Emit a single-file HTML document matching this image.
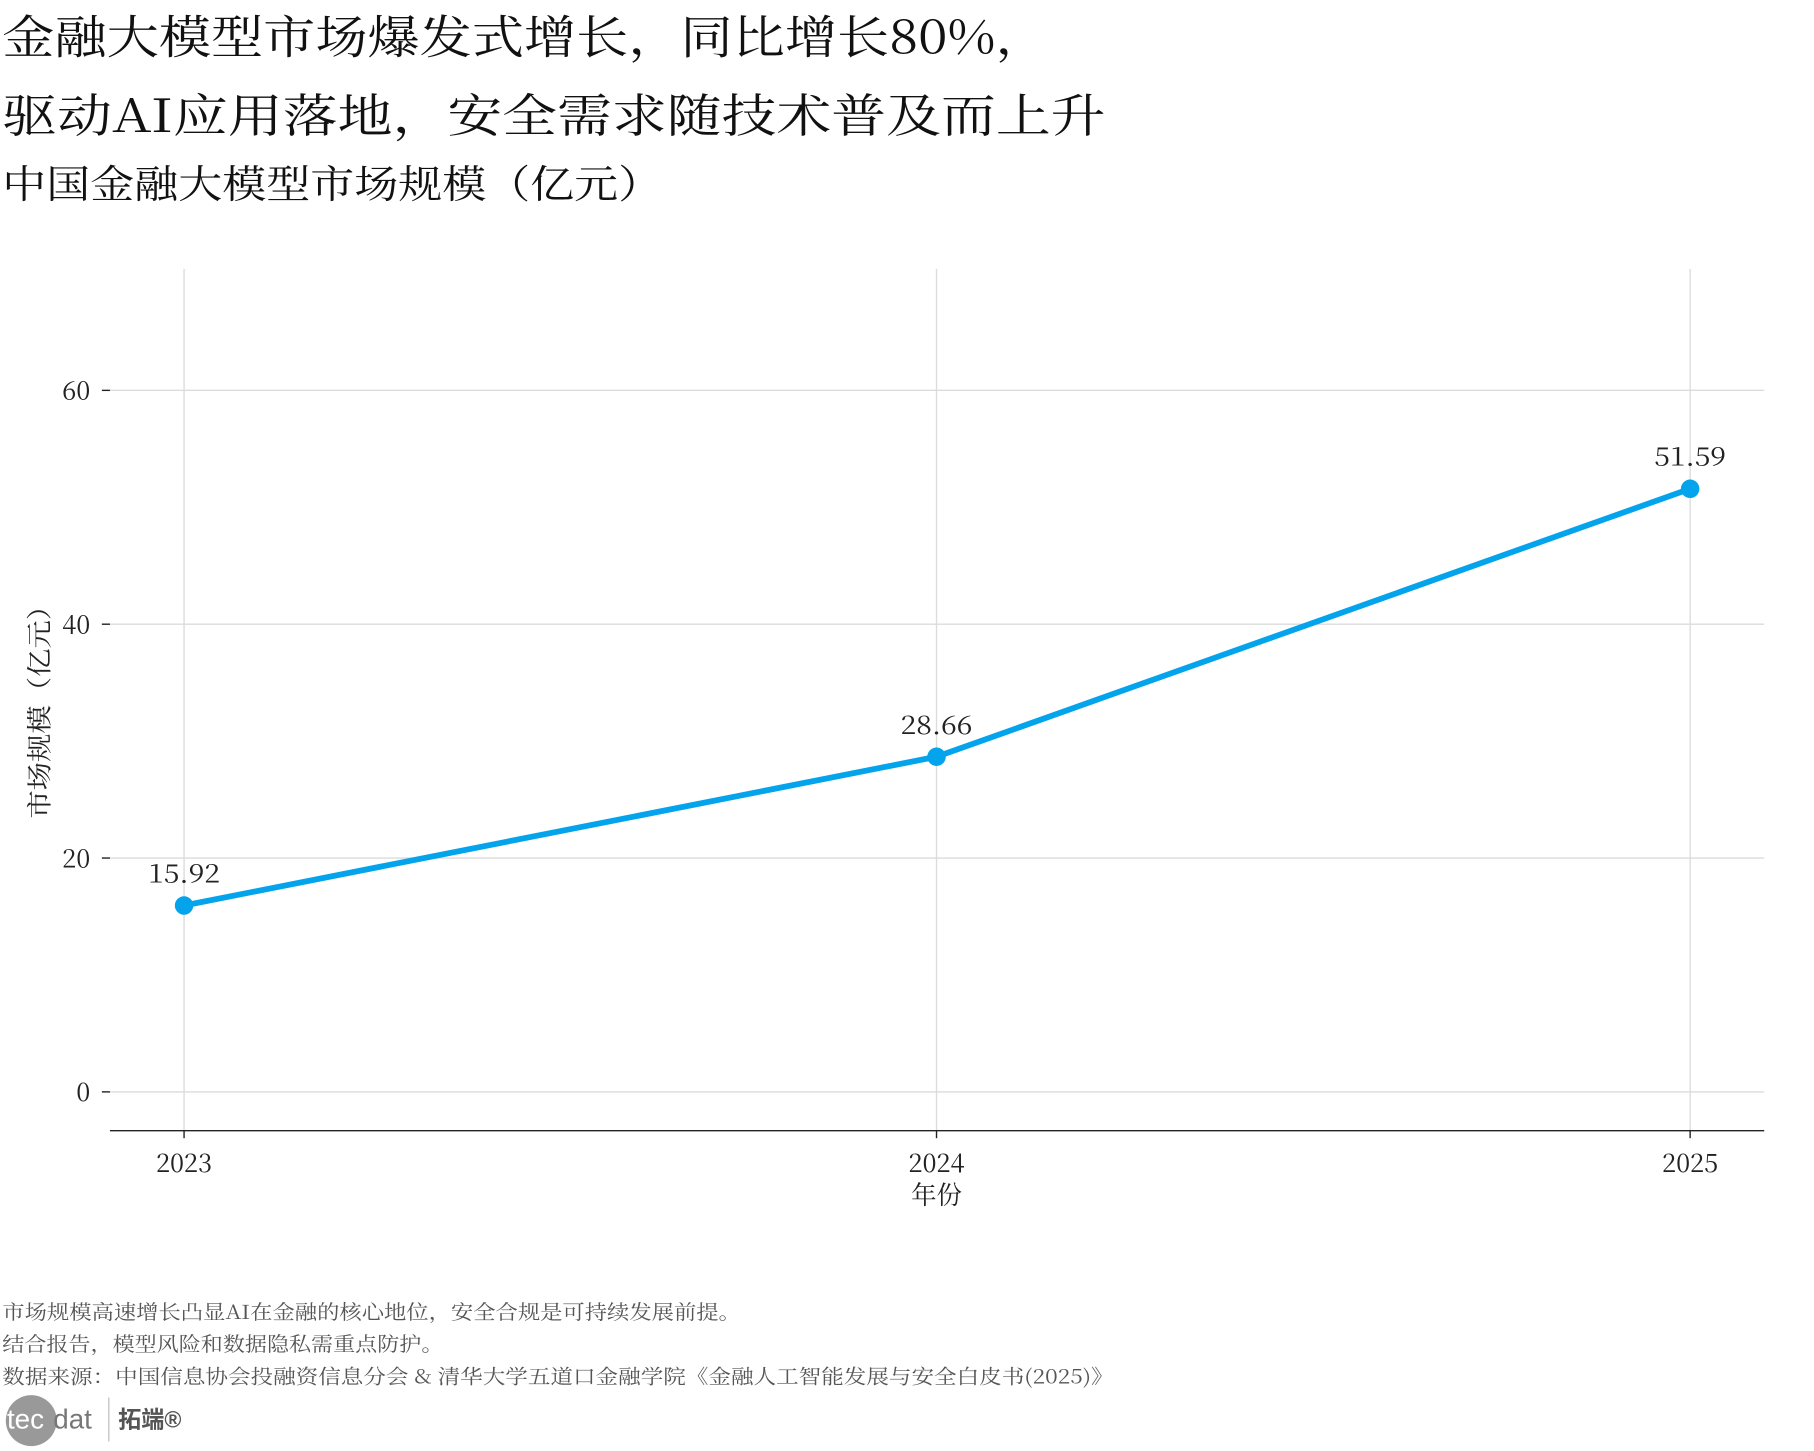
<!DOCTYPE html>
<html><head><meta charset="utf-8"><style>
html,body{margin:0;padding:0;background:#fff;}
svg{display:block;}
text{font-family:"Noto Serif CJK SC","Liberation Serif",serif;}
</style></head><body>
<svg width="1814" height="1451" viewBox="0 0 1567 1253" xmlns="http://www.w3.org/2000/svg">
<text x="2" y="46" font-size="40" fill="#111" textLength="903" lengthAdjust="spacingAndGlyphs">金融大模型市场爆发式增长，同比增长80%，</text>
<text x="2" y="114" font-size="40" fill="#111" textLength="953" lengthAdjust="spacingAndGlyphs">驱动AI应用落地，安全需求随技术普及而上升</text>
<text x="2" y="171" font-size="34" fill="#111" textLength="570" lengthAdjust="spacingAndGlyphs">中国金融大模型市场规模（亿元）</text>
<g stroke="#dcdcdc" stroke-width="1.2">
<line x1="95" y1="337" x2="1524" y2="337"/>
<line x1="95" y1="539" x2="1524" y2="539"/>
<line x1="95" y1="741" x2="1524" y2="741"/>
<line x1="95" y1="943" x2="1524" y2="943"/>
<line x1="159" y1="232" x2="159" y2="976"/>
<line x1="809" y1="232" x2="809" y2="976"/>
<line x1="1460" y1="232" x2="1460" y2="976"/>
</g>
<g stroke="#222" stroke-width="1.2">
<line x1="95" y1="976.5" x2="1524" y2="976.5"/>
<line x1="88" y1="337" x2="95" y2="337"/>
<line x1="88" y1="539" x2="95" y2="539"/>
<line x1="88" y1="741" x2="95" y2="741"/>
<line x1="88" y1="943" x2="95" y2="943"/>
<line x1="159" y1="976" x2="159" y2="983"/>
<line x1="809" y1="976" x2="809" y2="983"/>
<line x1="1460" y1="976" x2="1460" y2="983"/>
</g>
<g font-size="22" fill="#222" text-anchor="end">
<text x="78" y="345">60</text><text x="78" y="547">40</text><text x="78" y="749">20</text><text x="78" y="951">0</text>
</g>
<g font-size="22" fill="#222" text-anchor="middle">
<text x="159" y="1012">2023</text><text x="809" y="1012">2024</text><text x="1460" y="1012">2025</text>
<text x="809" y="1040">年份</text>
<text transform="translate(42,609) rotate(-90)" textLength="196" lengthAdjust="spacingAndGlyphs">市场规模（亿元）</text>
</g>
<polyline points="159,782 809,653.5 1460,422" fill="none" stroke="#03a4ec" stroke-width="5" stroke-linejoin="round"/>
<g fill="#03a4ec"><circle cx="159" cy="782" r="8"/><circle cx="809" cy="653.5" r="8"/><circle cx="1460" cy="422" r="8"/></g>
<g font-size="22" fill="#222" text-anchor="middle">
<text x="159" y="762" textLength="62" lengthAdjust="spacingAndGlyphs">15.92</text><text x="809" y="634" textLength="62" lengthAdjust="spacingAndGlyphs">28.66</text><text x="1460" y="402" textLength="62" lengthAdjust="spacingAndGlyphs">51.59</text>
</g>
<g font-size="17" fill="#555">
<text x="2" y="1139" textLength="638" lengthAdjust="spacingAndGlyphs">市场规模高速增长凸显AI在金融的核心地位，安全合规是可持续发展前提。</text>
<text x="2" y="1167" textLength="381" lengthAdjust="spacingAndGlyphs">结合报告，模型风险和数据隐私需重点防护。</text>
<text x="2" y="1195" textLength="960" lengthAdjust="spacingAndGlyphs">数据来源：中国信息协会投融资信息分会 &amp; 清华大学五道口金融学院《金融人工智能发展与安全白皮书(2025)》</text>
</g>
<circle cx="27" cy="1227" r="22" fill="#999"/>
<text x="6" y="1234" font-size="24" fill="#fff" style="font-family:'Liberation Sans',sans-serif">tec</text>
<text x="46" y="1234" font-size="24" fill="#777" style="font-family:'Liberation Sans',sans-serif">dat</text>
<line x1="94" y1="1207" x2="94" y2="1245" stroke="#bbb" stroke-width="1"/>
<text x="102" y="1233" font-size="20" font-weight="bold" fill="#555" style="font-family:'Liberation Sans','Noto Sans CJK SC',sans-serif">拓端®</text>
</svg>
</body></html>
